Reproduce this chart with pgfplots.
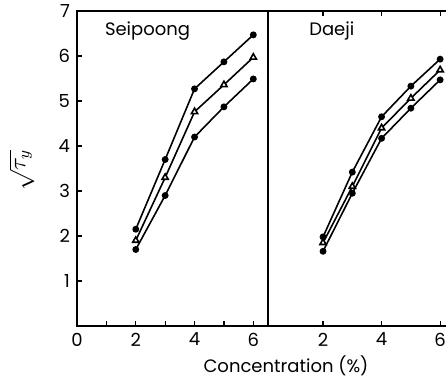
\documentclass[border=0pt]{standalone}
\usepackage{pgfplots}
\pgfplotsset{compat=1.18}
\usepackage{fontspec}
\setmainfont{Poppins}
\begin{document}
\begin{tikzpicture}[x=1pt,y=1pt]
\pgfplotsset{
  every axis/.append style={
    scale only axis, height=157.5pt, ymin=0, ymax=7,
    tick align=inside, major tick length=2.5pt,
    xtick pos=bottom, ytick pos=left,
    /pgf/number format/assume math mode=true,
    tick label style={font=\fontsize{9}{10}\selectfont},
    tick style={black, line width=0.6pt},
    axis line style={line width=1pt},
    clip=false,
  },
  ser/.style={black, line width=0.8pt, mark=*, mark size=1.3pt, mark options={solid,fill=black}},
  tri/.style={black, line width=0.8pt, mark=triangle*, mark size=1.8pt, mark options={solid,fill=white}},
}
\begin{axis}[at={(38.5pt,26.5pt)}, anchor=origin, width=95.5pt,
  xmin=0, xmax=6.5, xtick={0,...,6}, xticklabels={0,,2,,4,,6},
  ytick={1,...,7}, axis x line=box, axis y line=box, ytick pos=left, xtick pos=bottom]
\addplot[ser] coordinates {(2,2.15) (3,3.7) (4,5.27) (5,5.87) (6,6.47)};
\addplot[tri] coordinates {(2,1.9) (3,3.3) (4,4.76) (5,5.36) (6,5.97)};
\addplot[ser] coordinates {(2,1.7) (3,2.9) (4,4.2) (5,4.87) (6,5.49)};
\node[font=\fontsize{9}{10}\selectfont] at (axis cs:2.4,6.55) {Seipoong};
\end{axis}
\begin{axis}[at={(134pt,26.5pt)}, anchor=origin, width=89pt,
  xmin=0.12, xmax=6.2, xtick={2,4,6}, ytick=\empty,
  axis x line=box, axis y line=left, axis y line*=left, y axis line style={-, line width=1.2pt}, x axis line style={-}]
\addplot[ser] coordinates {(2,1.98) (3,3.42) (4,4.65) (5,5.33) (6,5.93)};
\addplot[tri] coordinates {(2,1.85) (3,3.1) (4,4.4) (5,5.06) (6,5.69)};
\addplot[ser] coordinates {(2,1.66) (3,2.95) (4,4.17) (5,4.84) (6,5.47)};
\node[font=\fontsize{9}{10}\selectfont] at (axis cs:2.3,6.55) {Daeji};
\end{axis}
\node[font=\fontsize{9}{10}\selectfont] at (143pt,6.5pt) {Concentration (\%)};
\node[rotate=90, inner sep=0pt, font=\fontsize{11.5}{12}\selectfont] at (11pt,104.5pt) {$\sqrt{\tau_y}$};
\pgfresetboundingbox
\useasboundingbox (0,0) rectangle (223pt,189.5pt);
\end{tikzpicture}
\end{document}
